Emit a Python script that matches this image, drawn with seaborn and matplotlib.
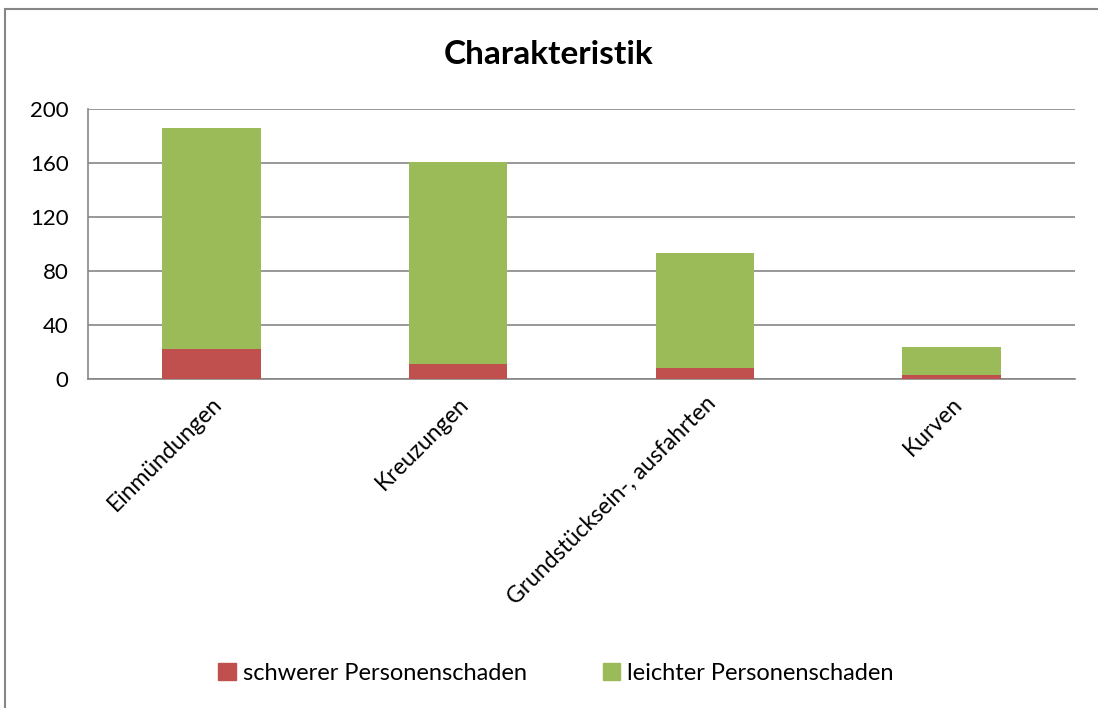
import matplotlib
matplotlib.use("Agg")
import matplotlib.pyplot as plt
import seaborn as sns
import pandas as pd
from matplotlib.patches import Rectangle, Patch

# data
categories = ["Einmündungen", "Kreuzungen", "Grundstücksein-, ausfahrten", "Kurven"]
schwer = [22, 11, 8, 3]
leicht = [164, 150, 85, 21]
series_names = ["schwerer Personenschaden", "leichter Personenschaden"]
y_ticks = [0, 40, 80, 120, 160, 200]

RED = "#c0504d"
GREEN = "#9bbb59"
GRAY = "#868686"

def main():
    sns.set_style("white")
    plt.rcParams["font.family"] = ["Lato", "DejaVu Sans"]
    plt.rcParams["text.color"] = "black"
    plt.rcParams["xtick.labelcolor"] = "black"
    plt.rcParams["ytick.labelcolor"] = "black"

    df = pd.DataFrame({"cat": categories, "schwer": schwer, "leicht": leicht})
    df["total"] = df["schwer"] + df["leicht"]

    fig = plt.figure(figsize=(10.98, 7.08), dpi=100)
    ax = fig.add_axes([88 / 1098, 1 - 379 / 708, (1075 - 88) / 1098, 270 / 708])

    # stacked bars: total in green, then the lower part in red
    sns.barplot(data=df, x="cat", y="total", color=GREEN, width=0.4,
                saturation=1, linewidth=0, ax=ax, zorder=3)
    sns.barplot(data=df, x="cat", y="schwer", color=RED, width=0.4,
                saturation=1, linewidth=0, ax=ax, zorder=4)

    ax.set_xlim(-0.5, len(categories) - 0.5)
    ax.set_ylim(0, 200)
    ax.set_yticks(y_ticks)
    ax.set_xlabel("")
    ax.set_ylabel("")

    ax.grid(axis="y", color=GRAY, linewidth=1.2, zorder=0)
    ax.set_axisbelow(True)
    for s in ["top", "right"]:
        ax.spines[s].set_visible(False)
    for s in ["left", "bottom"]:
        ax.spines[s].set_color(GRAY)
        ax.spines[s].set_linewidth(1.2)

    ax.tick_params(axis="y", which="major", length=6, color=GRAY, width=1.2,
                   labelsize=16, pad=8, labelcolor="black")
    ax.tick_params(axis="x", which="major", length=0, labelsize=16.5, pad=10,
                   labelcolor="black")
    ax.set_xticks([i - 0.5 for i in range(len(categories) + 1)], minor=True)
    ax.tick_params(axis="x", which="minor", length=6, color=GRAY, width=1.2)
    ax.set_xticklabels(categories, rotation=45, ha="right", rotation_mode="anchor")

    fig.text(0.5, 1 - 55 / 708, "Charakteristik", ha="center", va="center",
             fontsize=24, fontweight="bold", color="black")

    handles = [Patch(color=RED), Patch(color=GREEN)]
    fig.legend(handles, series_names, loc="center", bbox_to_anchor=(556 / 1098, 1 - 673 / 708),
               ncol=2, frameon=False, fontsize=17, handlelength=0.75, handleheight=0.75,
               handletextpad=0.3, columnspacing=3.2)

    # outer chart frame
    fig.patches.append(Rectangle((5 / 1098, -0.05), 1.1, 1.05 - 9 / 708,
                                 transform=fig.transFigure, fill=False,
                                 edgecolor=GRAY, linewidth=1.5))

    fig.savefig("out.png", dpi=100)

if __name__ == "__main__":
    main()
